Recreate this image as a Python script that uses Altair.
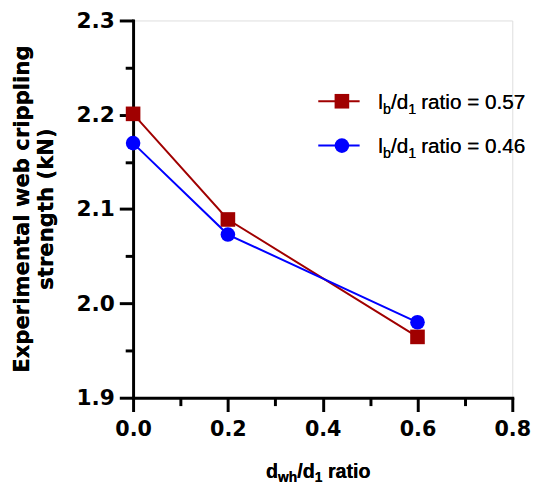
import altair as alt
import pandas as pd

# ---- data ----
x_vals = [0.0, 0.2, 0.6]
red_vals = [2.201, 2.089, 1.9645]     # lb/d1 ratio = 0.57
blue_vals = [2.170, 2.073, 1.980]     # lb/d1 ratio = 0.46
series = ["0.57", "0.46"]
colors = ["#A00000", "#0000FF"]
shapes = ["square", "circle"]
y_ticks = [1.9, 1.95, 2.0, 2.05, 2.1, 2.15, 2.2, 2.25, 2.3]
x_ticks = [0.0, 0.1, 0.2, 0.3, 0.4, 0.5, 0.6, 0.7, 0.8]

rows = []
for name, vals in zip(series, [red_vals, blue_vals]):
    for xv, yv in zip(x_vals, vals):
        rows.append({"series": name, "x": xv, "y": yv})
df = pd.DataFrame(rows)

W, H = 385, 383

def axis(vals, step_mult, size, pad):
    minor_test = f"abs(datum.value*{step_mult} - round(datum.value*{step_mult})) > 0.01"
    return alt.Axis(
        values=vals, title=None, grid=False,
        domainColor="black", domainWidth=3, domainCap="square",
        tickColor="black", tickWidth=3,
        tickSize={"condition": {"test": minor_test, "value": 8}, "value": 14},
        labelExpr=f"({minor_test}) ? '' : format(datum.value, '.1f')",
        labelFont="DejaVu Sans", labelFontWeight="bold", labelFontSize=size,
        labelColor="black", labelOverlap=False, labelFlush=False, labelBound=False,
        labelPadding=pad,
    )

xs = alt.X("x:Q", scale=alt.Scale(domain=[0, 0.8], nice=False, zero=False), axis=axis(x_ticks, 5, 21, 7))
ys = alt.Y("y:Q", scale=alt.Scale(domain=[1.9, 2.3], nice=False, zero=False), axis=axis(y_ticks, 10, 22, 5))
col = alt.Color("series:N", scale=alt.Scale(domain=series, range=colors), legend=None)
shp = alt.Shape("series:N", scale=alt.Scale(domain=series, range=shapes), legend=None)

layers = []
for name in series:
    base = alt.Chart(df).transform_filter(alt.datum.series == name)
    layers.append(base.mark_line(strokeWidth=2, clip=False).encode(x=xs, y=ys, color=col))
    layers.append(base.mark_point(filled=True, size=220, opacity=1, clip=False).encode(
        x=xs, y=ys, color=col, shape=shp))

# ---- custom legend (pixel layout) ----
leg_rows = [82, 127]
leg_df = pd.DataFrame({"series": series, "ly": leg_rows})
for i, name in enumerate(series):
    lb = alt.Chart(leg_df).transform_filter(alt.datum.series == name)
    layers.append(lb.mark_rule(strokeWidth=2).encode(
        x=alt.value(188), x2=alt.value(230), y=alt.value(leg_rows[i]), color=col))
    layers.append(lb.mark_point(filled=True, size=220, opacity=1).encode(
        x=alt.value(212), y=alt.value(leg_rows[i]), color=col, shape=shp))

def txt(text, x, y, size, bold=False, font="Liberation Sans", angle=None, align="left", baseline="alphabetic"):
    kw = dict(text=text, font=font, fontSize=size, fontWeight="bold" if bold else "normal",
              color="black", align=align, baseline=baseline)
    if angle is not None:
        kw["angle"] = angle
    return alt.Chart(leg_df).mark_text(**kw).encode(x=alt.value(x), y=alt.value(y))

# legend labels with subscripts
for i, name in enumerate(series):
    by = leg_rows[i] + 8
    layers += [
        txt("l", 249, by, 21),
        txt("b", 253.7, by + 5, 14.5),
        txt("/", 261.8, by, 21),
        txt("d", 267.6, by, 21),
        txt("1", 279.3, by + 5, 14.5),
        txt("ratio = " + name, 292.5, by, 21),
    ]

# x-axis title with subscripts
tb = 465
layers += [
    txt("d", 135, tb, 20, bold=True),
    txt("wh", 147.2, tb + 4, 14, bold=True),
    txt("/", 166.6, tb, 20, bold=True),
    txt("d", 172.2, tb, 20, bold=True),
    txt("1", 184.4, tb + 4, 14, bold=True),
    txt("ratio", 197.8, tb, 20, bold=True),
]

# y-axis title (two lines, rotated)
layers += [
    txt("Experimental web crippling", -111.5, 191.5, 21.5, bold=True, font="DejaVu Sans",
        angle=270, align="center", baseline="middle"),
    txt("strength (kN)", -87, 191.5, 21.5, bold=True, font="DejaVu Sans",
        angle=270, align="center", baseline="middle"),
]

chart = alt.layer(*layers).properties(
    width=W, height=H,
    autosize=alt.AutoSizeParams(type="none"),
    padding={"left": 127, "top": 9, "right": 20, "bottom": 89},
).configure_view(stroke=None).configure(background="white")

chart.save("out.html", embed_options={"renderer": "svg", "actions": False})
